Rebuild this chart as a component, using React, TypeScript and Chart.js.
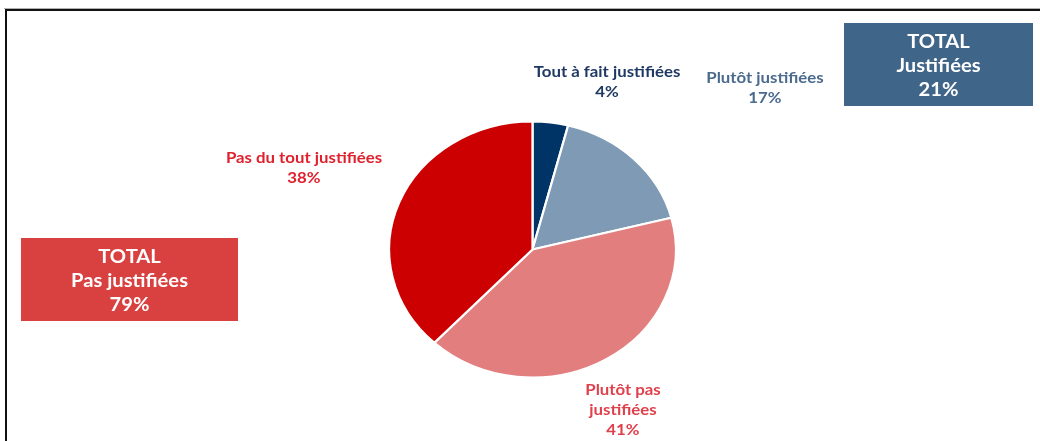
import React, { useEffect, useRef } from "react";
import { Chart, registerables } from "chart.js";

Chart.register(...registerables);

// ---- data ----
const categories = [
  "Tout à fait justifiées",
  "Plutôt justifiées",
  "Plutôt pas justifiées",
  "Pas du tout justifiées",
];
const values = [4, 17, 41, 38];
const labelLines = [
  ["Tout à fait justifiées"],
  ["Plutôt justifiées"],
  ["Plutôt pas", "justifiées"],
  ["Pas du tout justifiées"],
];
const totalTitles = ["TOTAL", "TOTAL"];
const totalLabels = ["Justifiées", "Pas justifiées"];
const totalValues = [21, 79];

// ---- styles / layout ----
const sliceColors = ["#003366", "#7f9ab4", "#e37e7e", "#cc0000"];
const labelColors = ["#1f3864", "#4a6a8e", "#e0404c", "#e0202c"];
const totalColors = ["#3f6589", "#d94141"];
const labelPos = [
  [607, 72],
  [765, 78],
  [623, 390],
  [304, 158],
];
const boxRects = [
  [844, 23, 189, 83],
  [21, 238, 217, 83],
];
const FONT = "Lato, 'Open Sans', 'Liberation Sans', sans-serif";
const STRETCH_X = 1.12;

const stretchPlugin = {
  id: "stretch",
  beforeDatasetsDraw(chart: any) {
    const arc = chart.getDatasetMeta(0).data[0];
    const { x, y } = arc;
    const ctx = chart.ctx;
    ctx.save();
    ctx.translate(x, y);
    ctx.scale(STRETCH_X, 1);
    ctx.translate(-x, -y);
  },
  afterDatasetsDraw(chart: any) {
    chart.ctx.restore();
  },
};

function stretchedText(ctx: CanvasRenderingContext2D, t: string, x: number, y: number) {
  ctx.save();
  ctx.translate(x, y);
  ctx.scale(STRETCH_X, 1);
  ctx.fillText(t, 0, 0);
  ctx.restore();
}

const annotationsPlugin = {
  id: "annotations",
  afterDraw(chart: any) {
    const ctx = chart.ctx as CanvasRenderingContext2D;
    ctx.save();
    // frame
    ctx.fillStyle = "#b0b0b0";
    ctx.fillRect(4, 8, 1036, 1);
    ctx.fillStyle = "#111";
    ctx.fillRect(5, 9, 1035, 2);
    ctx.fillRect(5, 9, 2, 432);

    ctx.textAlign = "center";
    ctx.textBaseline = "middle";
    // slice labels
    labelLines.forEach((lines, i) => {
      const [x, y] = labelPos[i];
      ctx.fillStyle = labelColors[i];
      ctx.font = `bold 15px ${FONT}`;
      const all = [...lines, `${values[i]}%`];
      all.forEach((t, k) => stretchedText(ctx, t, x, y + k * 20));
    });
    // total boxes
    boxRects.forEach(([x, y, w, h], i) => {
      ctx.fillStyle = totalColors[i];
      ctx.fillRect(x, y, w, h);
      ctx.fillStyle = "#ffffff";
      ctx.font = `bold 18px ${FONT}`;
      const cx = x + w / 2;
      const lines = [totalTitles[i], totalLabels[i], `${totalValues[i]}%`];
      lines.forEach((t, k) => stretchedText(ctx, t, cx, y + 19 + k * 24));
    });
    ctx.restore();
  },
};

export default function App() {
  const ref = useRef<HTMLCanvasElement | null>(null);
  useEffect(() => {
    document.body.style.margin = "0";
    const chart = new Chart(ref.current!, {
      type: "pie",
      data: {
        labels: categories,
        datasets: [
          {
            data: values,
            backgroundColor: sliceColors,
            borderColor: "#ffffff",
            borderWidth: 2,
          },
        ],
      },
      options: {
        responsive: false,
        animation: false,
        layout: { padding: { top: 120.5, bottom: 62.5, left: 403.5, right: 378.5 } },
        plugins: {
          legend: { display: false },
          tooltip: { enabled: false },
        },
      },
      plugins: [stretchPlugin, annotationsPlugin],
    });
    return () => chart.destroy();
  }, []);
  return (
    <div style={{ position: "absolute", left: 0, top: 0, width: 1040, height: 441, background: "#fff" }}>
      <canvas ref={ref} width={1040} height={441} />
    </div>
  );
}
